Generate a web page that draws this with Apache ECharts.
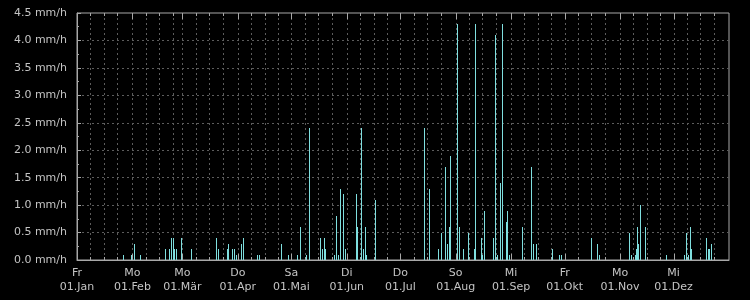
<!DOCTYPE html>
<html>
<head>
<meta charset="utf-8">
<script src="https://cdn.jsdelivr.net/npm/echarts@6/dist/echarts.min.js"></script>
<style>
html,body{margin:0;padding:0;background:#000;}
#c{width:750px;height:300px;}
</style>
</head>
<body>
<div id="c"></div>
<script>
// Day offsets from 01.Jan 2021 and rain rate (mm/h)
const rainDay = [26,30,32,35,49,51.5,52.5,53.5,54.5,55.5,58,64,78,79,84,84.5,87,88,89,92,93,
  101,102,114,118,123,125,128,130,136,137,138,139,144,145,146,147,149,150,156,157,159,160,161,162,167,
  194,197,202,204,206,207,208,209,213,214,216,219,222,223,226,227,228,233,234,235,237,238,240,241,242,
  249,254,255,257,266,270,271,288,291,292,309,310,312.5,313,313.5,314,315,318,330,340,341,342,343,344,352,353,354,355];
const rainRate = [0.1,0.1,0.3,0.1,0.2,0.2,0.4,0.4,0.2,0.2,0.4,0.2,0.4,0.2,0.2,0.3,0.2,0.2,0.1,0.3,0.4,
  0.1,0.1,0.3,0.1,0.1,0.6,0.1,2.4,0.4,0.2,0.4,0.2,0.1,0.8,0.1,1.3,1.2,0.2,1.2,0.6,2.4,0.2,0.6,0.1,1.1,
  2.4,1.3,0.2,0.5,1.7,0.3,0.6,1.9,4.3,0.6,0.2,0.5,0.2,4.3,0.4,0.1,0.9,0.4,4.1,0.1,1.4,4.3,0.7,0.9,0.1,
  0.6,1.7,0.3,0.3,0.2,0.1,0.1,0.4,0.3,0.1,0.5,0.1,0.1,0.2,0.6,0.3,1.0,0.6,0.1,0.1,0.5,0.1,0.6,0.2,0.4,0.2,0.2,0.3];

const monthStarts = [0,31,59,90,120,151,181,212,243,273,304,334];
const monthLabels = ['Fr\n01.Jan','Mo\n01.Feb','Mo\n01.Mär','Do\n01.Apr','Sa\n01.Mai','Di\n01.Jun',
  'Do\n01.Jul','So\n01.Aug','Mi\n01.Sep','Fr\n01.Okt','Mo\n01.Nov','Mi\n01.Dez'];
const subTickOffsets = [7.5, 15, 22.5];

const gridData = [];
monthStarts.forEach(m => {
  gridData.push([m, 1]);
  subTickOffsets.forEach(o => gridData.push([m + o, 0]));
});

const frameColor = '#a8a8a8';
const dashColor = '#5c5c5c';
const textColor = '#c4c4c4';
const barColor = '#7fdfdf';
const font = 'DejaVu Sans';

const chart = echarts.init(document.getElementById('c'), null, {renderer: 'canvas'});
chart.setOption({
  backgroundColor: '#000',
  animation: false,
  grid: {left: 77, top: 13, width: 652, height: 247, show: true, borderColor: frameColor, borderWidth: 1, backgroundColor: 'transparent'},
  xAxis: {
    type: 'value', min: 0, max: 365,
    axisLine: {show: true, lineStyle: {color: frameColor}},
    axisTick: {show: false},
    splitLine: {show: false},
    axisLabel: {
      customValues: monthStarts,
      formatter: v => monthLabels[monthStarts.indexOf(v)] || '',
      color: textColor, fontSize: 11, fontFamily: font, lineHeight: 14, margin: 6
    }
  },
  yAxis: {
    type: 'value', min: 0, max: 4.5, interval: 0.5,
    axisLine: {show: true, lineStyle: {color: frameColor}},
    axisTick: {show: true, inside: true, length: 4, lineStyle: {color: frameColor}},
    minorTick: {show: true, splitNumber: 2, length: 2, lineStyle: {color: frameColor}},
    splitLine: {show: true, showMinLine: false, showMaxLine: false, lineStyle: {color: dashColor, type: [2, 3]}},
    axisLabel: {formatter: v => v.toFixed(1) + ' mm/h', color: textColor, fontSize: 11, fontFamily: font, margin: 10}
  },
  series: [
    {
      type: 'custom',
      silent: true,
      z: 1,
      data: gridData,
      renderItem: function (params, api) {
        const d = api.value(0), major = api.value(1);
        const pt = api.coord([d, 4.5]);
        const pb = api.coord([d, 0]);
        const x = Math.round(pt[0]) + 0.5;
        const len = major ? 6 : 3;
        const children = [];
        if (d > 0) {
          children.push({type: 'line', shape: {x1: x, y1: pt[1], x2: x, y2: pb[1]},
            style: {stroke: dashColor, lineWidth: 1, lineDash: [2, 3]}});
        }
        children.push({type: 'line', shape: {x1: x, y1: pt[1], x2: x, y2: pt[1] + len},
          style: {stroke: frameColor, lineWidth: 1}});
        children.push({type: 'line', shape: {x1: x, y1: pb[1], x2: x, y2: pb[1] - len},
          style: {stroke: frameColor, lineWidth: 1}});
        return {type: 'group', children: children};
      }
    },
    {
      type: 'custom',
      z: 2,
      data: rainDay.map((d, i) => [d, rainRate[i]]),
      renderItem: function (params, api) {
        const top = api.coord([api.value(0), api.value(1)]);
        const base = api.coord([api.value(0), 0]);
        const x = Math.round(top[0]);
        return {type: 'rect', shape: {x: x, y: Math.round(top[1]), width: 1, height: Math.round(base[1]) - Math.round(top[1])},
          style: {fill: barColor}};
      }
    }
  ]
});
</script>
</body>
</html>
